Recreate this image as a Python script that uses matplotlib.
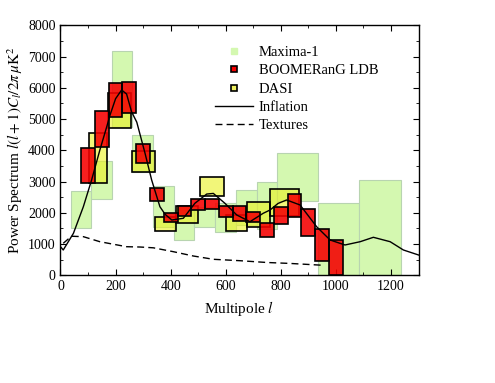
import matplotlib
matplotlib.use("Agg")
import matplotlib.pyplot as plt
from matplotlib.lines import Line2D
from matplotlib.ticker import MultipleLocator

plt.rcParams["font.family"] = ["Liberation Serif", "DejaVu Serif"]
plt.rcParams["mathtext.fontset"] = "stix"
plt.rcParams["font.size"] = 10

# Maxima-1 bins: left edge, right edge, low, high
maxima_l0 = [38, 110, 188, 261, 337, 411, 486, 561, 636, 712, 785, 936, 1085]
maxima_l1 = [110, 188, 261, 337, 411, 486, 561, 636, 712, 785, 936, 1085, 1235]
maxima_lo = [1500, 2430, 4750, 3300, 1550, 1130, 1550, 1390, 1600, 1490, 2370, 0, 0]
maxima_hi = [2700, 3650, 7180, 4500, 2850, 2100, 2200, 2300, 2730, 2980, 3900, 2310, 3040]

# BOOMERanG LDB bins (width 50)
boom_l = [100, 150, 200, 250, 300, 350, 400, 450, 500, 550, 600, 650, 700, 750,
          800, 850, 900, 950, 1000]
boom_lo = [2950, 4120, 5060, 5200, 3590, 2380, 1710, 1900, 2090, 2110, 1880, 1750,
           1690, 1215, 1640, 1880, 1260, 470, 0]
boom_hi = [4075, 5250, 6140, 6200, 4200, 2800, 2000, 2220, 2430, 2450, 2220, 2220,
           2030, 1685, 2200, 2600, 2110, 1490, 1130]

# DASI bins
dasi_l0 = [105, 174, 261, 342, 420, 505, 601, 677, 762]
dasi_l1 = [170, 256, 342, 420, 500, 595, 677, 762, 865]
dasi_lo = [2950, 4715, 3300, 1430, 1665, 2540, 1410, 1560, 1900]
dasi_hi = [4565, 5845, 3990, 1855, 2220, 3135, 1940, 2345, 2775]

# model curves
infl_l = [0, 10, 47, 83, 113, 143, 168, 180, 200, 222, 240, 258, 277, 307, 331,
          361, 380, 404, 446, 488, 531, 555, 597, 640, 688, 736, 761, 790, 821,
          870, 930, 979, 1033, 1088, 1136, 1197, 1245, 1300]
infl_y = [915, 810, 1344, 2195, 3050, 4010, 4755, 5130, 5650, 5930, 5800, 5235,
          4900, 3904, 3050, 2195, 1950, 1770, 1824, 2304, 2600, 2620, 2304, 1930,
          1715, 1984, 2090, 2300, 2410, 2250, 1555, 1130, 970, 1075, 1216, 1075,
          810, 650]

tex_l = [10, 40, 83, 143, 240, 289, 337, 410, 482, 555, 652, 749, 833, 955]
tex_y = [1024, 1250, 1236, 1075, 915, 905, 880, 755, 618, 512, 467, 410, 380, 320]

maxima_col = "#d4f8b0"
boom_col = "#f50000"
dasi_col = "#eaf020"

fig = plt.figure(figsize=(4.95, 3.83), dpi=100)
ax = fig.add_axes([0.1222, 0.2812, 0.7233, 0.6528])

ax.bar([(a + b) / 2 for a, b in zip(maxima_l0, maxima_l1)],
       [h - l for h, l in zip(maxima_hi, maxima_lo)], bottom=maxima_lo,
       width=[b - a for a, b in zip(maxima_l0, maxima_l1)],
       color=maxima_col, edgecolor="#b8d4b0", linewidth=0.8, zorder=1)
ax.bar([(a + b) / 2 for a, b in zip(dasi_l0, dasi_l1)],
       [h - l for h, l in zip(dasi_hi, dasi_lo)], bottom=dasi_lo,
       width=[b - a for a, b in zip(dasi_l0, dasi_l1)],
       color=dasi_col, alpha=0.6, edgecolor="none", zorder=2)
ax.bar([(a + b) / 2 for a, b in zip(dasi_l0, dasi_l1)],
       [h - l for h, l in zip(dasi_hi, dasi_lo)], bottom=dasi_lo,
       width=[b - a for a, b in zip(dasi_l0, dasi_l1)],
       fill=False, edgecolor="black", linewidth=1.2, zorder=2)
ax.bar(boom_l, [h - l for h, l in zip(boom_hi, boom_lo)], bottom=boom_lo, width=50,
       color=boom_col, alpha=0.88, edgecolor="none", zorder=3)
ax.bar(boom_l, [h - l for h, l in zip(boom_hi, boom_lo)], bottom=boom_lo, width=50,
       fill=False, edgecolor="black", linewidth=1.2, zorder=3)

ax.plot(infl_l, infl_y, color="black", lw=1.0, zorder=5)
ax.plot(tex_l, tex_y, color="black", lw=1.0, ls=(0, (5, 3)), zorder=5)

ax.set_xlim(0, 1300)
ax.set_ylim(0, 8000)
ax.xaxis.set_major_locator(MultipleLocator(200))
ax.xaxis.set_minor_locator(MultipleLocator(100))
ax.yaxis.set_major_locator(MultipleLocator(1000))
ax.yaxis.set_minor_locator(MultipleLocator(500))
ax.tick_params(which="both", direction="in", top=True, right=True, labelsize=10)
ax.tick_params(which="major", length=4)
ax.tick_params(which="minor", length=2.5)
for s in ax.spines.values():
    s.set_linewidth(1.0)

ax.set_xlabel(r"Multipole $l$", fontsize=11)
ax.set_ylabel(r"Power Spectrum $l(l+1)C_l/2\pi\,\mu\mathrm{K}^2$", fontsize=11,
              labelpad=2)

handles = [
    Line2D([], [], ls="none", marker="s", ms=5, mfc=maxima_col, mec=maxima_col),
    Line2D([], [], ls="none", marker="s", ms=5, mfc=boom_col, mec="black", mew=1.2),
    Line2D([], [], ls="none", marker="s", ms=5, mfc="#eef060", mec="black", mew=1.2),
    Line2D([], [], color="black", lw=1.0),
    Line2D([], [], color="black", lw=1.0, ls=(0, (5, 3))),
]
labels = ["Maxima-1", "BOOMERanG LDB", "DASI", "Inflation", "Textures"]
ax.legend(handles, labels, loc="upper left", bbox_to_anchor=(0.395, 0.97),
          frameon=False, fontsize=10.5, handlelength=2.6, handletextpad=0.4,
          labelspacing=0.35)

fig.savefig("out.png", dpi=100)
